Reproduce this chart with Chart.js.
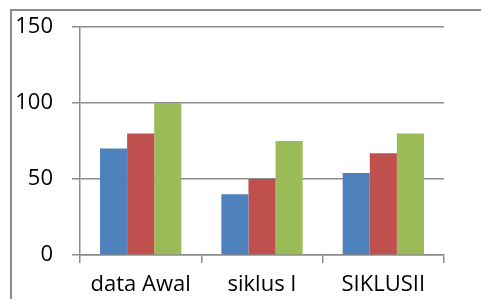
<!DOCTYPE html>
<html>
<head>
<meta charset="utf-8">
<script src="https://cdn.jsdelivr.net/npm/chart.js@4"></script>
<style>
  html, body { margin: 0; padding: 0; background: #fff; }
  #wrap { position: relative; width: 481px; height: 299px; overflow: hidden; }
  #frame { position: absolute; left: 10px; top: 9px; width: 600px; height: 400px;
           border-left: 2px solid #8a8a8a; border-top: 2px solid #8a8a8a; }
  canvas { position: absolute; left: 0; top: 0; }
</style>
</head>
<body>
<div id="wrap">
  <div id="frame"></div>
  <canvas id="chart" width="481" height="299"></canvas>
</div>
<script>
const categories = ['data Awal', 'siklus I', 'SIKLUSII'];
const series1 = [70, 40, 54];
const series2 = [80, 50, 67];
const series3 = [100, 75, 80];
const yTicks = [0, 50, 100, 150];

const gridColor = '#8c8c8c';
const font = { family: '"Open Sans", Lato, sans-serif', size: 22 };

const ctx = document.getElementById('chart').getContext('2d');
new Chart(ctx, {
  type: 'bar',
  data: {
    labels: categories,
    datasets: [
      { data: series1, backgroundColor: '#4f81bd' },
      { data: series2, backgroundColor: '#c0504d' },
      { data: series3, backgroundColor: '#9bbb59' }
    ]
  },
  options: {
    responsive: false,
    animation: false,
    datasets: { bar: { categoryPercentage: 0.67, barPercentage: 1.0 } },
    layout: { padding: { top: 27, right: 37, left: 0, bottom: 0 } },
    plugins: { legend: { display: false }, tooltip: { enabled: false } },
    scales: {
      x: {
        afterFit: s => { s.height = 44; },
        grid: { offset: true, drawOnChartArea: false, drawTicks: true, tickLength: 8,
                color: gridColor, lineWidth: 1.5 },
        border: { color: gridColor, width: 1.5 },
        ticks: { color: '#000', font: font, padding: 9, maxRotation: 0 }
      },
      y: {
        min: 0,
        max: 150,
        afterFit: s => { s.width = 80; s.paddingTop = 0; s.paddingBottom = 0; },
        afterBuildTicks: s => { s.ticks = yTicks.map(v => ({ value: v })); },
        grid: { color: gridColor, lineWidth: 1.5, tickLength: 8, drawTicks: true },
        border: { color: gridColor, width: 1.5 },
        ticks: { color: '#000', font: font, padding: 19 }
      }
    }
  }
});
</script>
</body>
</html>
